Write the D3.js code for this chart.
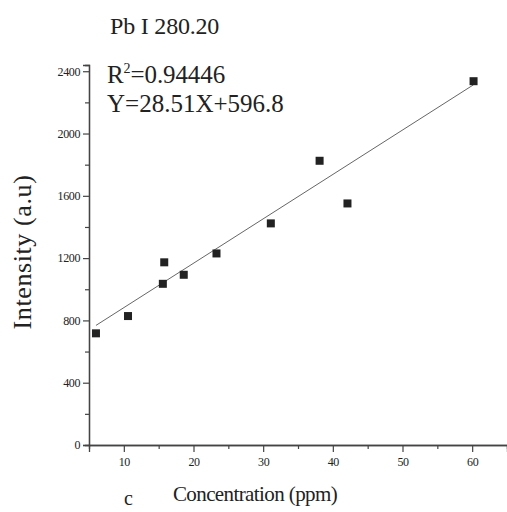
<!DOCTYPE html>
<html>
<head>
<meta charset="utf-8">
<script src="https://cdn.jsdelivr.net/npm/d3@7"></script>
<style>
  body { margin: 0; background: #fff; }
  svg text { font-family: "Liberation Serif", "Times New Roman", serif; fill: #222; }
</style>
</head>
<body>
<svg id="chart" width="507" height="512"></svg>
<script>
// concentration (ppm) and measured intensity (a.u.)
const concentration = [6.0, 10.6, 15.6, 15.8, 18.6, 23.3, 31.1, 38.1, 42.1, 60.2];
const intensity = [717, 828, 1035, 1173, 1093, 1230, 1423, 1825, 1551, 2336];
const fitSlope = 28.51;
const fitIntercept = 596.8;
const xTicks = [10, 20, 30, 40, 50, 60];
const yTicks = [0, 400, 800, 1200, 1600, 2000, 2400];

const svg = d3.select("#chart");
const margin = { left: 89, top: 65, bottom: 67 };
const height = 512 - margin.bottom;

const x = d3.scaleLinear().domain([5, 65]).range([margin.left, 507]);
const y = d3.scaleLinear().domain([0, 2440]).range([height, margin.top]);

// axes
const xAxis = d3.axisBottom(x).tickValues(xTicks).tickSize(7).tickPadding(5).tickFormat(d3.format("d"));
const xMinor = d3.axisBottom(x).tickValues(d3.range(15, 65, 10)).tickSize(4).tickFormat("");
const yAxis = d3.axisLeft(y).tickValues(yTicks).tickSize(6).tickPadding(3).tickFormat(d3.format("d"));
const yMinor = d3.axisLeft(y).tickValues(d3.range(200, 2440, 400)).tickSize(4).tickFormat("");

function styleAxis(g) {
  g.select(".domain").attr("stroke", "#444").attr("stroke-width", 1.3);
  g.selectAll("line").attr("stroke", "#444").attr("stroke-width", 1.2);
  g.selectAll("text").attr("font-size", 12).attr("fill", "#333")
    .attr("letter-spacing", -0.4).attr("font-family", "Liberation Serif");
}

svg.append("g").attr("transform", `translate(0,${height})`).call(xMinor).call(styleAxis);
svg.append("g").attr("transform", `translate(0,${height})`).call(xAxis).call(styleAxis);
svg.append("g").attr("transform", `translate(${margin.left},0)`).call(yMinor).call(styleAxis);
svg.append("g").attr("transform", `translate(${margin.left},0)`).call(yAxis).call(styleAxis);

// fit line
const [xmin, xmax] = d3.extent(concentration);
svg.append("line")
  .attr("x1", x(xmin)).attr("y1", y(fitSlope * xmin + fitIntercept))
  .attr("x2", x(xmax)).attr("y2", y(fitSlope * xmax + fitIntercept))
  .attr("stroke", "#666").attr("stroke-width", 1);

// points
const s = 8;
svg.append("g").selectAll("rect")
  .data(concentration)
  .join("rect")
  .attr("x", (d) => x(d) - s / 2)
  .attr("y", (d, i) => y(intensity[i]) - s / 2)
  .attr("width", s).attr("height", s)
  .attr("fill", "#222");

// texts
svg.append("text").attr("x", 110).attr("y", 34).attr("font-size", 24)
  .attr("letter-spacing", -0.2).text("Pb I 280.20");

const r2 = svg.append("text").attr("x", 107).attr("y", 83).attr("font-size", 25).attr("letter-spacing", -0.1);
r2.append("tspan").text("R");
r2.append("tspan").attr("font-size", 14).attr("dy", -10).text("2");
r2.append("tspan").attr("dy", 10).text("=0.94446");

svg.append("text").attr("x", 107).attr("y", 112).attr("font-size", 25)
  .attr("letter-spacing", 0).text(`Y=${fitSlope}X+${fitIntercept}`);

svg.append("text")
  .attr("transform", "translate(31,252) rotate(-90)")
  .attr("text-anchor", "middle").attr("font-size", 26).attr("letter-spacing", 0.6)
  .attr("fill", "#333")
  .text("Intensity (a.u)");

svg.append("text").attr("x", 255).attr("y", 501).attr("text-anchor", "middle")
  .attr("font-size", 21).attr("letter-spacing", -0.6).text("Concentration (ppm)");

svg.append("text").attr("x", 124).attr("y", 505).attr("font-size", 20).attr("fill", "#444").text("c");
</script>
</body>
</html>
